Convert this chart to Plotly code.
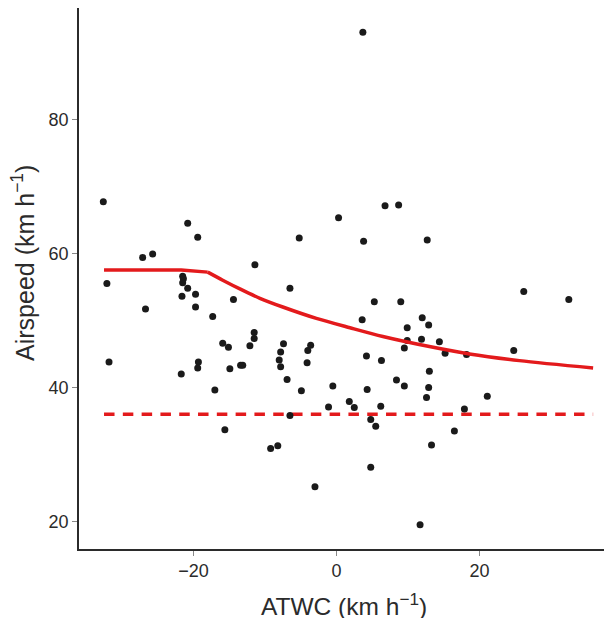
import plotly.graph_objects as go

# Scatter observations (ATWC, airspeed), km/h
atwc = [-32.6, -32.1, -31.8, -27.1, -25.7, -26.7, -20.8, -19.4, -21.5, -21.4,
        -21.5, -20.8, -21.6, -19.7, -19.7, -17.3, -14.4, -11.4, -11.5, -11.5,
        -12.1, -15.9, -15.1, -19.3, -19.4, -21.7, -14.9, -13.4, -13.1, -17.0,
        -15.6, -9.2, -8.2, -7.4, -7.8, -8.0, -7.8, -6.9, -6.5, -6.5,
        -5.2, -4.9, -4.1, -4.0, -3.6, -3.0, -0.5, -1.1, 0.3, 1.8,
        2.5, 3.6, 3.8, 3.7, 4.2, 4.3, 4.8, 5.5, 4.8, 5.3,
        6.3, 6.2, 6.8, 8.7, 9.0, 8.4, 9.5, 9.9, 9.9, 9.5,
        11.7, 12.0, 12.9, 11.9, 12.7, 13.0, 12.9, 12.6, 13.3, 14.4,
        15.2, 18.2, 17.9, 16.5, 21.1, 24.8, 26.2, 32.5]
airspeed = [67.7, 55.5, 43.8, 59.4, 59.9, 51.7, 64.5, 62.4, 56.6, 56.2,
            55.6, 54.8, 53.6, 53.9, 52.0, 50.6, 53.1, 58.3, 48.2, 47.3,
            46.2, 46.6, 46.0, 43.8, 42.9, 42.0, 42.8, 43.3, 43.3, 39.6,
            33.7, 30.9, 31.3, 46.5, 45.3, 44.1, 43.1, 41.2, 35.8, 54.8,
            62.3, 39.5, 43.7, 45.5, 46.3, 25.2, 40.2, 37.1, 65.3, 37.9,
            37.0, 50.1, 61.8, 93.0, 44.7, 39.7, 35.2, 34.2, 28.1, 52.8,
            44.0, 37.2, 67.1, 67.2, 52.8, 41.1, 40.2, 48.9, 47.0, 45.9,
            19.5, 50.4, 49.3, 47.2, 62.0, 42.4, 40.0, 38.5, 31.4, 46.8,
            45.1, 44.9, 36.8, 33.5, 38.7, 45.5, 54.3, 53.1]

# Model curve (solid red): flat part, then decreasing part
flat_x = [-32.5, -21.7, -18.0]
flat_y = [57.5, 57.5, 57.2]
curve_x = [-18.0, -15.9, -13.5, -10.7, -7.5, -2.8, 1.9, 6.5, 13.0, 18.6, 25.6, 35.9]
curve_y = [57.2, 56.0, 54.7, 53.3, 52.0, 50.3, 48.9, 47.6, 46.1, 45.0, 44.0, 42.9]

# Minimum airspeed (dashed red)
min_x = [-32.5, 35.9]
min_y = [36.0, 36.0]

x_ticks = [-20, 0, 20]
x_labels = ["−20", "0", "20"]
y_ticks = [20, 40, 60, 80]
y_labels = ["20", "40", "60", "80"]
x_title = "ATWC (km h<sup>−1</sup>)"
y_title = "Airspeed (km h<sup>−1</sup>)"

RED = "#e31a1c"
TXT = "#2b2b2b"

fig = go.Figure()
fig.add_trace(go.Scatter(x=min_x, y=min_y, mode="lines",
                         line=dict(color=RED, width=3.3, dash="10.5px,8.3px"),
                         hoverinfo="skip"))
fig.add_trace(go.Scatter(x=atwc, y=airspeed, mode="markers",
                         marker=dict(color="#1a1a1a", size=7, line=dict(width=0))))
fig.add_trace(go.Scatter(x=flat_x, y=flat_y, mode="lines",
                         line=dict(color=RED, width=3.5)))
fig.add_trace(go.Scatter(x=curve_x, y=curve_y, mode="lines",
                         line=dict(color=RED, width=3.5, shape="spline", smoothing=0.8)))

font_family = "Liberation Sans, Arial, sans-serif"
fig.update_layout(
    width=612, height=618,
    margin=dict(l=71, r=0, t=0, b=77),
    plot_bgcolor="white", paper_bgcolor="white",
    showlegend=False,
    font=dict(family=font_family, color=TXT),
    annotations=[
        dict(text=x_title, xref="paper", yref="paper", x=0.489, y=0,
             xanchor="center", yanchor="middle", yshift=-55, showarrow=False,
             font=dict(size=24.5, color=TXT)),
        dict(text=y_title, xref="paper", yref="paper", x=0, y=0.5287,
             xanchor="center", yanchor="middle", xshift=-56, showarrow=False,
             textangle=-90, font=dict(size=25, color=TXT)),
    ],
)
fig.update_xaxes(
    range=[-36.0, 39.66], showgrid=False, zeroline=False,
    showline=True, linecolor=TXT, linewidth=1.5,
    ticks="outside", ticklen=5, tickwidth=1.2, tickcolor="#888888",
    tickvals=x_ticks, ticktext=x_labels,
    tickfont=dict(size=18, color=TXT),
)
fig.update_yaxes(
    range=[15.9, 96.6], showgrid=False, zeroline=False,
    showline=True, linecolor=TXT, linewidth=1.5,
    ticks="outside", ticklen=5, tickwidth=1.2, tickcolor="#888888",
    tickvals=y_ticks, ticktext=y_labels,
    tickfont=dict(size=18, color=TXT),
)

fig.write_html("out.html")
